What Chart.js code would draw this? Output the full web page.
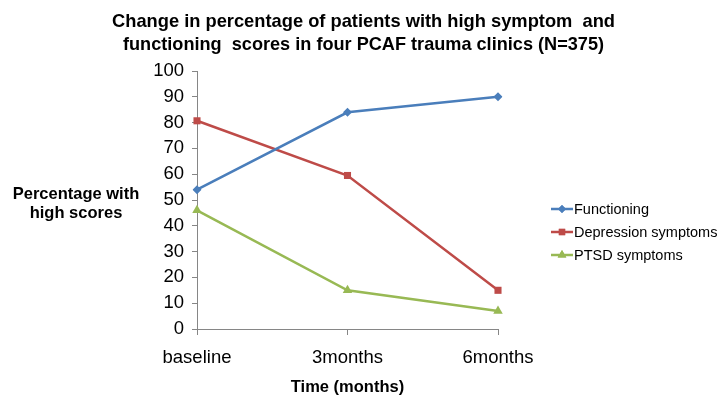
<!DOCTYPE html>
<html>
<head>
<meta charset="utf-8">
<script src="https://cdn.jsdelivr.net/npm/chart.js@4/dist/chart.umd.min.js"></script>
<style>
  html, body { margin: 0; padding: 0; background: #fff; }
  #wrap { width: 727px; height: 407px; position: relative; }
</style>
</head>
<body>
<div id="wrap"><canvas id="myChart"></canvas></div>
<script>
// data
var timeLabels = ['baseline', '3months', '6months']
var functioning = [54, 84, 90]
var depression = [80.7, 59.5, 15]
var ptsd = [46, 15, 7]
var seriesNames = ['Functioning', 'Depression symptoms', 'PTSD symptoms']
var titleLines = ['Change in percentage of patients with high symptom  and', 'functioning  scores in four PCAF trauma clinics (N=375)']
var yTitle = ['Percentage with', 'high scores']
var xTitle = 'Time (months)'

var colors = ['#4A7EBB', '#BE4B48', '#98B954']
var markers = ['rectRot', 'rect', 'triangle']
var markerSize = [4.5, 5, 5.5]

var font = "'Liberation Sans', Arial, sans-serif"

// title, y title (horizontal) and the legend are drawn by hand
var extras = {
    id: 'extras',
    afterDraw: function(chart){
        var c = chart.ctx
        c.save()
        c.fillStyle = '#000'
        c.textAlign = 'center'
        c.textBaseline = 'middle'
        c.font = 'bold 19px ' + font
        c.fillText(titleLines[0], 363.5, 22, 503)
        c.fillText(titleLines[1], 363.5, 45, 481)

        c.font = 'bold 16.5px ' + font
        c.fillText(yTitle[0], 76, 194)
        c.fillText(yTitle[1], 76, 213)

        c.font = '14.5px ' + font
        c.textAlign = 'left'
        for (var i = 0; i < seriesNames.length; i++){
            var y = 209 + i * 23
            c.strokeStyle = colors[i]
            c.lineWidth = 2.5
            c.beginPath()
            c.moveTo(551, y)
            c.lineTo(573, y)
            c.stroke()
            c.fillStyle = colors[i]
            Chart.helpers.drawPoint(c, {pointStyle: markers[i], radius: markerSize[i] - 0.5, borderWidth: 0}, 562, y)
            c.fill()
            c.fillStyle = '#000'
            c.fillText(seriesNames[i], 574, y + 1)
        }
        c.restore()
    }
}

var allData = [functioning, depression, ptsd]
var datasets = []
for (i = 0; i < allData.length; i++){
    datasets.push({
        label: seriesNames[i],
        data: allData[i],
        borderColor: colors[i],
        backgroundColor: colors[i],
        borderWidth: 2.5,
        pointStyle: markers[i],
        pointRadius: markerSize[i],
        pointHoverRadius: markerSize[i],
        pointBorderWidth: 0,
        tension: 0
    })
}

var ctx = document.getElementById('myChart')
var myChart = new Chart(ctx, {
    type: 'line',
    data: { labels: timeLabels, datasets: datasets },
    options: {
        responsive: true,
        maintainAspectRatio: false,
        animation: false,
        layout: { padding: { left: 147, right: 229, top: 71, bottom: 10 } },
        plugins: {
            legend: { display: false },
            tooltip: { enabled: false },
            title: { display: false }
        },
        scales: {
            x: {
                offset: false,
                afterFit: function(s){ s.height = 68 },
                grid: { drawOnChartArea: false, color: '#868686', tickLength: 6 },
                border: { color: '#868686', width: 1 },
                ticks: { color: '#000', font: { family: font, size: 18.5 }, padding: 12, maxRotation: 0 },
                title: { display: true, text: xTitle, color: '#000', font: { family: font, size: 16.5, weight: 'bold' }, padding: { top: 8, bottom: 0 } }
            },
            y: {
                min: 0,
                max: 100,
                afterFit: function(s){ s.width = 50 },
                grid: { drawOnChartArea: false, color: '#868686', tickLength: 5 },
                border: { color: '#868686', width: 1 },
                ticks: { stepSize: 10, autoSkip: false, color: '#000', font: { family: font, size: 18.5 }, padding: 8 }
            }
        }
    },
    plugins: [extras]
});
</script>
</body>
</html>
